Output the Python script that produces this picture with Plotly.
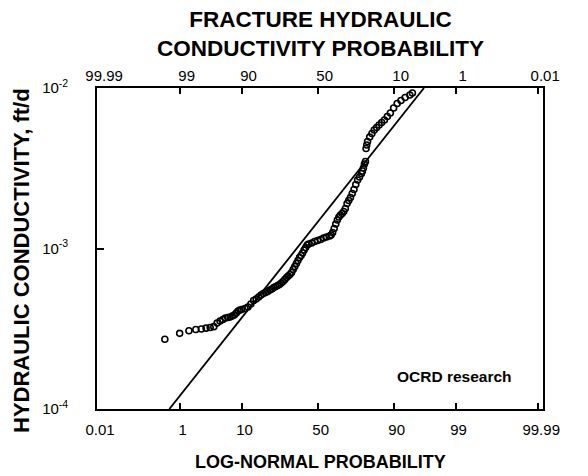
import plotly.graph_objects as go
from statistics import NormalDist

# ---- data ----
prob_pct = [0.5, 1.0, 1.5, 2.0, 2.5, 3.0, 3.5, 4.0, 4.5, 5, 5.5, 6, 6.5, 7, 7.5, 8, 8.5, 9, 9.5, 10,
            11, 12, 13, 14, 15, 16, 17, 18, 19, 20, 21, 22, 23, 24, 25, 26, 27, 28, 29, 30,
            31, 32, 33, 34, 35, 36, 37, 38, 39, 40, 41, 42, 43, 44, 46, 48, 50, 52, 54, 56,
            58, 59, 60, 61, 62, 63, 64, 65, 66, 67, 68, 69, 70, 71, 72, 73, 74, 75, 76, 77,
            77.5, 78, 78.5, 79, 79.3, 79.6, 80, 81, 82, 83, 84, 85, 86, 87, 88, 89, 90, 91,
            92, 93, 94, 94.5]
k_milli = [0.272, 0.296, 0.307, 0.313, 0.315, 0.319, 0.322, 0.326, 0.343, 0.353, 0.361, 0.369,
           0.372, 0.374, 0.380, 0.385, 0.396, 0.408, 0.414, 0.417,
           0.423, 0.432, 0.451, 0.474, 0.485, 0.499, 0.513, 0.524, 0.532, 0.540,
           0.551, 0.559, 0.571, 0.580, 0.588, 0.597, 0.610, 0.623, 0.641, 0.660,
           0.674, 0.689, 0.709, 0.740, 0.773, 0.807, 0.842, 0.879, 0.905, 0.938,
           0.979, 1.014, 1.051, 1.067, 1.082, 1.106, 1.122, 1.138, 1.163, 1.179,
           1.196, 1.214, 1.258, 1.332, 1.421, 1.505, 1.571, 1.617, 1.652, 1.700,
           1.775, 1.907, 1.991, 2.078, 2.201, 2.331, 2.504, 2.672, 2.790, 2.934,
           3.040, 3.174, 3.362, 3.484, 4.198, 4.415, 4.642, 4.951, 5.206, 5.475,
           5.675, 5.882, 6.095, 6.319, 6.646, 6.988, 7.507, 8.008, 8.358, 8.726,
           9.045, 9.307]
hydraulic_k = [v * 1e-3 for v in k_milli]  # ft/d

fit_prob_pct = [0.621, 96.35]
fit_k = [1e-4, 1e-2]

bottom_tick_pct = [0.01, 1, 10, 50, 90, 99, 99.99]
bottom_tick_text = ["0.01", "1", "10", "50", "90", "99", "99.99"]
top_tick_text = ["99.99", "99", "90", "50", "10", "1", "0.01"]
y_tick_vals = [1e-4, 1e-3, 1e-2]
y_tick_text = ["10<sup>-4</sup>", "10<sup>-3</sup>", "10<sup>-2</sup>"]

nd = NormalDist()
def z(p):
    return nd.inv_cdf(p / 100.0)

x_data = [z(p) for p in prob_pct]
x_fit = [z(p) for p in fit_prob_pct]
tick_z = [z(p) for p in bottom_tick_pct]

FONT = "Liberation Sans, Arial, Helvetica, sans-serif"
xr = [-3.72, 3.80]

fig = go.Figure()
fig.add_trace(go.Scatter(x=x_fit, y=fit_k, mode="lines",
                         line=dict(color="black", width=1.8), showlegend=False,
                         hoverinfo="skip"))
fig.add_trace(go.Scatter(x=x_fit, y=fit_k, mode="lines", xaxis="x2",
                         line=dict(color="rgba(0,0,0,0)", width=0), showlegend=False,
                         hoverinfo="skip"))
fig.add_trace(go.Scatter(x=x_data, y=hydraulic_k, mode="markers",
                         marker=dict(symbol="circle-open", size=6, color="black",
                                     line=dict(width=1.6, color="black")),
                         showlegend=False))

tick_font = dict(size=15, family=FONT, color="black")

fig.update_layout(
    width=580, height=468,
    margin=dict(l=89, r=45, t=80, b=67),
    paper_bgcolor="white", plot_bgcolor="white",
    font=dict(family=FONT, color="black"),
    xaxis=dict(range=xr, showgrid=False, zeroline=False, automargin=False,
               showline=True, linecolor="black", linewidth=1.6, mirror=True,
               tickmode="array", tickvals=tick_z, ticktext=bottom_tick_text,
               ticks="inside", ticklen=6, tickwidth=1.5, tickcolor="black",
               tickfont=tick_font, ticklabelstandoff=6, ticklabelshift=3),
    xaxis2=dict(range=xr, overlaying="x", side="top", showgrid=False, zeroline=False,
                showline=False, automargin=False,
                tickmode="array", tickvals=tick_z, ticktext=top_tick_text,
                ticks="inside", ticklen=6, tickwidth=1.5, tickcolor="black",
                tickfont=tick_font, ticklabelstandoff=3, ticklabelshift=7),
    yaxis=dict(type="log", range=[-4, -2], showgrid=False, zeroline=False, automargin=False,
               showline=True, linecolor="black", linewidth=1.6, mirror=True,
               tickmode="array", tickvals=y_tick_vals, ticktext=y_tick_text,
               ticks="inside", ticklen=7, tickwidth=1.5, tickcolor="black",
               tickfont=tick_font, ticklabelstandoff=24),
    annotations=[
        dict(text="<b>FRACTURE HYDRAULIC<br>CONDUCTIVITY PROBABILITY</b>",
             xref="paper", yref="paper", x=0.5, y=(409 - 34) / 321,
             xanchor="center", yanchor="middle", showarrow=False,
             font=dict(size=22.5, family=FONT, color="black")),
        dict(text="<b>LOG-NORMAL PROBABILITY</b>",
             xref="paper", yref="paper", x=0.5, y=(409 - 462) / 321,
             xanchor="center", yanchor="middle", showarrow=False,
             font=dict(size=18, family=FONT, color="black")),
        dict(text="<b>HYDRAULIC CONDUCTIVITY, ft/d</b>",
             xref="paper", yref="paper", x=(22 - 97) / 446, y=(409 - 261) / 321,
             xanchor="center", yanchor="middle", textangle=-90, showarrow=False,
             font=dict(size=22, family=FONT, color="black")),
        dict(text="<b>OCRD research</b>", xref="paper", yref="paper",
             x=(454 - 97) / 446, y=(409 - 376) / 321, showarrow=False,
             xanchor="center", yanchor="middle",
             font=dict(size=15.5, family=FONT, color="black")),
    ],
)

fig.write_html("out.html")
